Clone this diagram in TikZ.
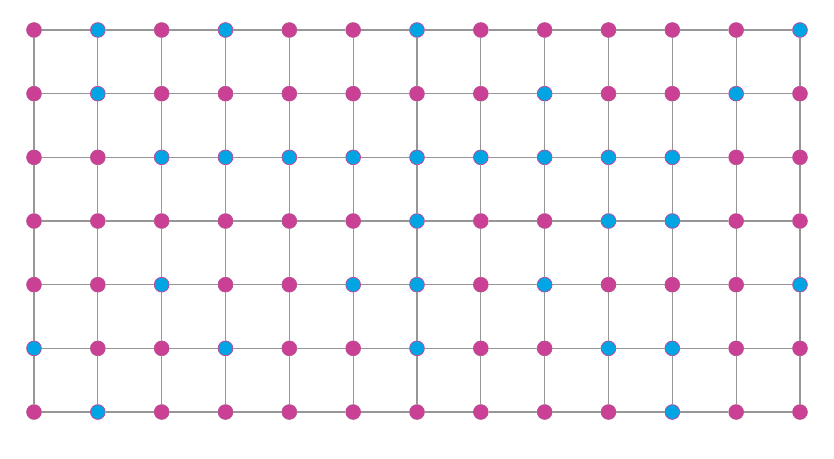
\documentclass[tikz,border=0pt]{standalone}
\usepackage{tikz}
\usetikzlibrary{positioning}

\definecolor{dotpink}{RGB}{202,64,149}
\definecolor{dotblue}{RGB}{2,165,228}
\definecolor{edgegray}{RGB}{150,150,150}

\begin{document}
\begin{tikzpicture}
    \tikzset{
    dot0/.style={
        circle, inner sep=0pt, minimum size=0.37cm,
        fill=dotpink, draw=dotpink!75!gray, line width=0.5pt
    },
    dot1/.style={
        dot0, fill=dotblue, draw=dotpink
    },
    gridedge/.style={draw=edgegray, line width=0.8pt}
    }
    \def\dx{1.5958}
    \def\dy{1.5917}
    \useasboundingbox (-0.85,0.75) rectangle (20.0,-10.7);

        % 0 = pink, 1 = blue
        \foreach \r/\pat in {0/{0,1,0,1,0,0,1,0,0,0,0,0,1},1/{0,1,0,0,0,0,0,0,1,0,0,1,0},2/{0,0,1,1,1,1,1,1,1,1,1,0,0},3/{0,0,0,0,0,0,1,0,0,1,1,0,0},4/{0,0,1,0,0,1,1,0,1,0,0,0,1},5/{1,0,0,1,0,0,1,0,0,1,1,0,0},6/{0,1,0,0,0,0,0,0,0,0,1,0,0}}
        {
            \foreach \t [count=\c from 0] in \pat
                \node (n-\r-\c)[dot\t] at (\c*\dx,-\r*\dy) {};
        }

        \foreach \r in {0,...,6}
            \foreach \c in {0,...,11}
            {
                \pgfmathtruncatemacro\nc{\c+1}
                \path[gridedge] (n-\r-\c) -- (n-\r-\nc);
            }
        \foreach \c in {0,...,12}
            \foreach \r in {0,...,5}
            {
                \pgfmathtruncatemacro\nr{\r+1}
                \path[gridedge] (n-\r-\c) -- (n-\nr-\c);
            }

    \end{tikzpicture}
\end{document}
